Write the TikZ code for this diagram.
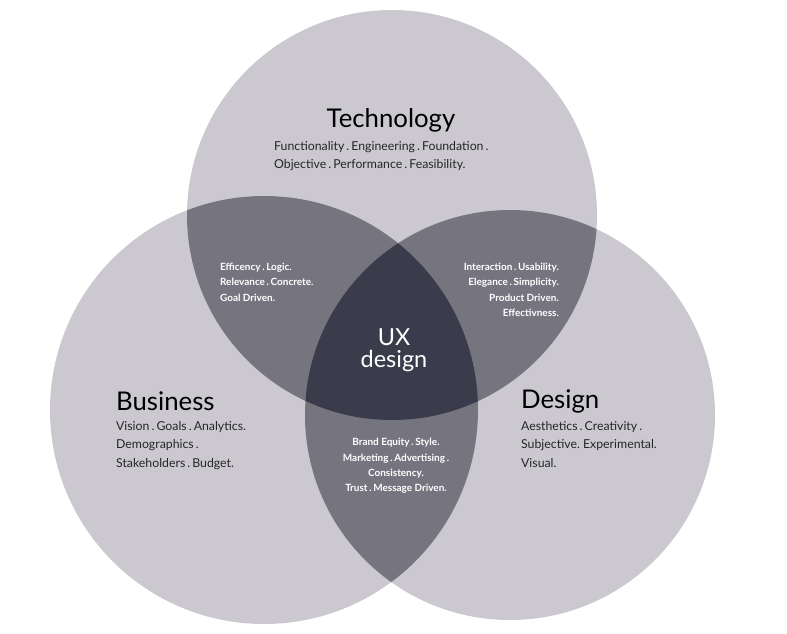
\documentclass[tikz,border=0pt]{standalone}
\usepackage{fontspec}
\setmainfont{Lato}
\definecolor{lightc}{HTML}{CBC9CF}
\definecolor{midc}{HTML}{76747F}
\definecolor{darkc}{HTML}{3A3C4C}
\begin{document}
\begin{tikzpicture}[x=0.03cm, y=-0.03cm,
	title/.style={font=\fontsize{22}{24}\selectfont, text=black},
	body/.style={font=\fontsize{10.5}{16}\selectfont, align=left, text=black!85},
	inner/.style={font=\bfseries\fontsize{8.5}{13}\selectfont, text=white},
]
\useasboundingbox (0,0) rectangle (787,633);
\def\tech{(392,215) circle (205)}
\def\busi{(264,410) circle (214)}
\def\desi{(510,415) circle (205)}
\fill [lightc] \tech;
\fill [lightc] \busi;
\fill [lightc] \desi;
\begin{scope}
\clip \tech; \fill [midc] \busi; \fill [midc] \desi;
\end{scope}
\begin{scope}
\clip \busi; \fill [midc] \desi;
\end{scope}
\begin{scope}
\clip \tech; \clip \busi; \fill [darkc] \desi;
\end{scope}
%
\node [title] (techT) at (391,120) {Technology};
\node [body, anchor=north west] (techB) at (270,137) {Functionality\,.\,Engineering\,.\,Foundation\,.\\Objective\,.\,Performance\,.\,Feasibility.};
\node [title, anchor=west] (busiT) at (112,401) {Business};
\node [body, anchor=north west] (busiB) at (112,417) {Vision\,.\,Goals\,.\,Analytics.\\Demographics\,.\\Stakeholders\,.\,Budget.};
\node [title, anchor=west] (desiT) at (517,401) {Design};
\node [body, anchor=north west] (desiB) at (517,417) {Aesthetics\,.\,Creativity\,.\\Subjective.\ Experimental.\\Visual.};
\node [inner, align=left, anchor=north west] (tb) at (216,259) {Efficency\,.\,Logic.\\Relevance\,.\,Concrete.\\Goal Driven.};
\node [inner, align=right, anchor=north east] (td) at (563,259) {Interaction\,.\,Usability.\\Elegance\,.\,Simplicity.\\Product Driven.\\Effectivness.};
\node [inner, align=center] (bd) at (396,466) {Brand Equity\,.\,Style.\\Marketing\,.\,Advertising\,.\\Consistency.\\Trust\,.\,Message Driven.};
\node [font=\fontsize{20}{19}\selectfont, text=white, align=center] (ux) at (394,350) {UX\\design};
\end{tikzpicture}
\end{document}
